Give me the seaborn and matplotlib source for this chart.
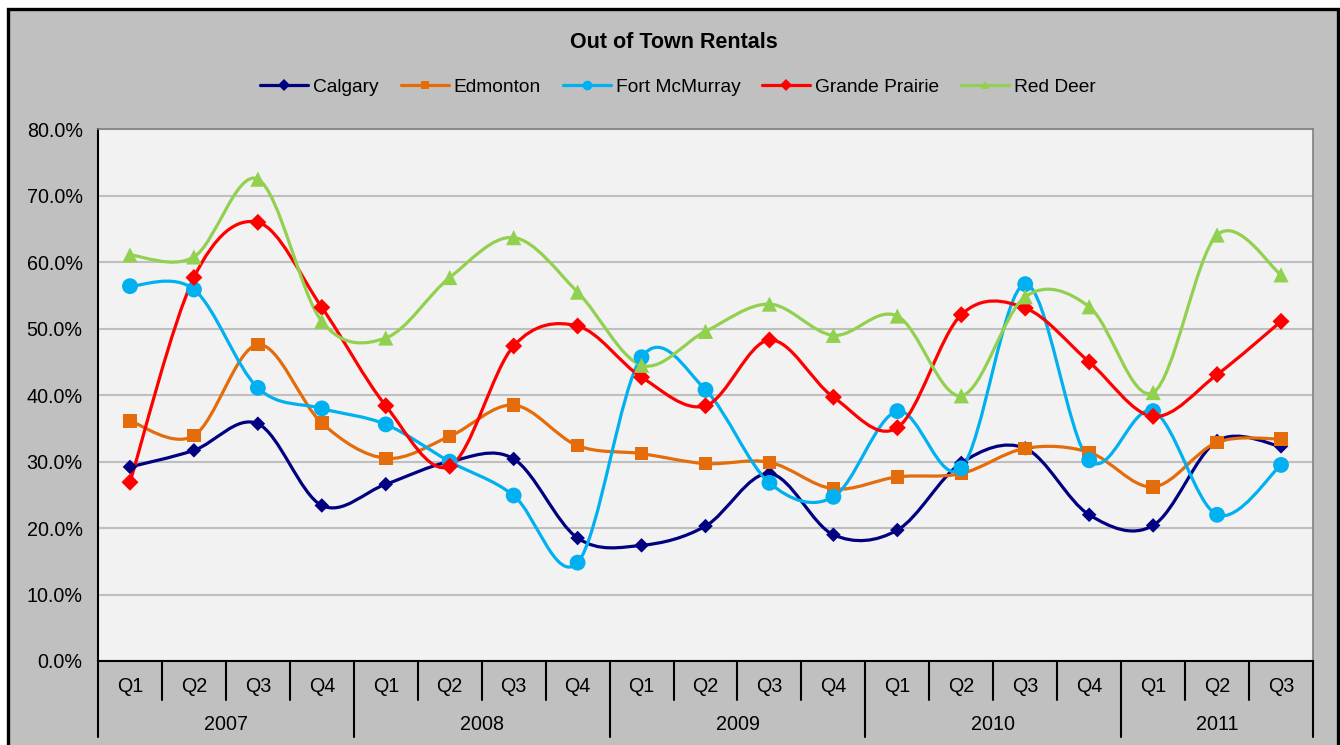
import numpy as np
import pandas as pd
import matplotlib
matplotlib.use("Agg")
import matplotlib.pyplot as plt
import seaborn as sns
from matplotlib.path import Path
from matplotlib.patches import PathPatch, Rectangle
from matplotlib.lines import Line2D
import matplotlib.transforms as mtransforms

# ---- data ----
quarters = ["Q1", "Q2", "Q3", "Q4", "Q1", "Q2", "Q3", "Q4", "Q1", "Q2", "Q3", "Q4",
            "Q1", "Q2", "Q3", "Q4", "Q1", "Q2", "Q3"]
years = ["2007", "2008", "2009", "2010", "2011"]
year_sizes = [4, 4, 4, 4, 3]

cities = ["Calgary", "Edmonton", "Fort McMurray", "Grande Prairie", "Red Deer"]
calgary = [29.2, 31.7, 35.7, 23.4, 26.6, 30.0, 30.4, 18.5, 17.4, 20.3, 28.2, 19.0,
           19.7, 29.8, 32.0, 22.0, 20.4, 33.1, 32.3]
edmonton = [36.1, 33.9, 47.6, 35.8, 30.5, 33.8, 38.5, 32.4, 31.2, 29.7, 29.9, 25.9,
            27.7, 28.2, 32.0, 31.4, 26.2, 32.9, 33.4]
fort_mcmurray = [56.4, 55.9, 41.1, 38.0, 35.6, 30.0, 24.9, 14.8, 45.7, 40.8, 26.8, 24.7,
                 37.6, 29.0, 56.7, 30.2, 37.6, 22.0, 29.5]
grande_prairie = [26.9, 57.7, 66.0, 53.2, 38.4, 29.3, 47.4, 50.4, 42.7, 38.4, 48.3, 39.7,
                  35.1, 52.1, 53.1, 45.0, 36.8, 43.1, 51.1]
red_deer = [61.1, 60.8, 72.5, 51.1, 48.6, 57.7, 63.7, 55.5, 44.5, 49.6, 53.7, 49.0,
            51.9, 39.9, 54.8, 53.3, 40.4, 64.1, 58.1]

colors = {"Calgary": "#000080", "Edmonton": "#E46C0A", "Fort McMurray": "#00B0F0",
          "Grande Prairie": "#FF0000", "Red Deer": "#92D050"}
markers = {"Calgary": "D", "Edmonton": "s", "Fort McMurray": "o",
           "Grande Prairie": "D", "Red Deer": "^"}
sizes = {"Calgary": 55, "Edmonton": 95, "Fort McMurray": 130,
         "Grande Prairie": 75, "Red Deer": 120}

values = [calgary, edmonton, fort_mcmurray, grande_prairie, red_deer]
df = pd.DataFrame({
    "x": np.tile(np.arange(len(quarters)), len(cities)),
    "city": np.repeat(cities, len(quarters)),
    "value": np.concatenate(values),
})

sns.set_style("white")
plt.rcParams["font.family"] = ["Liberation Sans", "DejaVu Sans"]
plt.rcParams["text.color"] = "black"
plt.rcParams["ytick.color"] = "black"
plt.rcParams["xtick.color"] = "black"

fig = plt.figure(figsize=(13.4, 7.45), dpi=100, facecolor="white")
# chart area background with black frame
fig.patches.append(Rectangle((7.5 / 1340, -0.1), (1338 - 7.5) / 1340, 0.1 + (745 - 8.5) / 745,
                             transform=fig.transFigure, facecolor="#C0C0C0",
                             edgecolor="black", linewidth=2.4, zorder=-10))

ax = fig.add_axes([98 / 1340, (745 - 661) / 745, (1313 - 98) / 1340, (661 - 129.3) / 745])
ax.set_facecolor("#F2F2F2")
ax.set_xlim(-0.5, len(quarters) - 0.5)
ax.set_ylim(0, 80)


def smooth_path(xs, ys):
    # Catmull-Rom style bezier, similar to Excel's smoothed line
    pts = np.column_stack([xs, ys]).astype(float)
    n = len(pts)
    verts = [pts[0]]
    codes = [Path.MOVETO]
    for i in range(n - 1):
        p0 = pts[i - 1] if i > 0 else pts[i]
        p1 = pts[i]
        p2 = pts[i + 1]
        p3 = pts[i + 2] if i + 2 < n else pts[i + 1]
        c1 = p1 + (p2 - p0) / 6.0
        c2 = p2 - (p3 - p1) / 6.0
        verts += [c1, c2, p2]
        codes += [Path.CURVE4] * 3
    return Path(verts, codes)


for city, vals in zip(cities, values):
    patch = PathPatch(smooth_path(np.arange(len(vals)), vals), facecolor="none",
                      edgecolor=colors[city], linewidth=2.3, zorder=3, capstyle="round")
    ax.add_patch(patch)

sns.scatterplot(data=df, x="x", y="value", hue="city", style="city", size="city",
                palette=colors, markers=markers, sizes=sizes, linewidth=0,
                legend=False, ax=ax, zorder=4)

# y axis
ax.set_yticks(np.arange(0, 81, 10))
ax.set_yticklabels([f"{v:.1f}%" for v in np.arange(0, 81, 10)], fontsize=14.2)
ax.yaxis.grid(True, color="#BFBFBF", linewidth=1.5)
ax.set_axisbelow(True)
ax.tick_params(axis="y", direction="out", length=5, width=1.2, color="black", pad=6)
ax.set_xticks([])
ax.set_xlabel("")
ax.set_ylabel("")
for side in ["top", "right"]:
    ax.spines[side].set_color("#808080")
    ax.spines[side].set_linewidth(1.2)
for side in ["left", "bottom"]:
    ax.spines[side].set_color("black")
    ax.spines[side].set_linewidth(1.5)

# two-level category axis
trans = mtransforms.blended_transform_factory(ax.transData, ax.transAxes)
ph = 661 - 129.3
q_lab_y = -25 / ph
q_sep_y = -39 / ph
y_lab_y = -63 / ph
y_sep_y = -76 / ph
for i, q in enumerate(quarters):
    ax.text(i, q_lab_y, q, transform=trans, ha="center", va="center", fontsize=14.2)
start = 0
bounds = [-0.5]
for yr, sz in zip(years, year_sizes):
    ax.text(start + (sz - 1) / 2, y_lab_y, yr, transform=trans, ha="center",
            va="center", fontsize=14.2)
    for k in range(1, sz):
        xb = start + k - 0.5
        ax.plot([xb, xb], [0, q_sep_y], transform=trans, color="black",
                linewidth=1.5, clip_on=False)
    start += sz
    bounds.append(start - 0.5)
for xb in bounds:
    ax.plot([xb, xb], [0, y_sep_y], transform=trans, color="black",
            linewidth=1.5, clip_on=False)

# title and legend
fig.text(0.503, (745 - 42) / 745, "Out of Town Rentals", ha="center", va="center",
         fontsize=15.5, fontweight="bold")
handles = [Line2D([0], [0], color=colors[c], linewidth=2.3, marker=markers[c],
                  markersize=6 if c != "Fort McMurray" else 7, markeredgewidth=0)
           for c in cities]
fig.legend(handles, cities, loc="center", bbox_to_anchor=(0.506, (745 - 87) / 745),
           ncol=5, frameon=False, fontsize=13.8, handlelength=2.5, handletextpad=0.25,
           columnspacing=1.15)

fig.savefig("out.png", dpi=100, facecolor=fig.get_facecolor())
